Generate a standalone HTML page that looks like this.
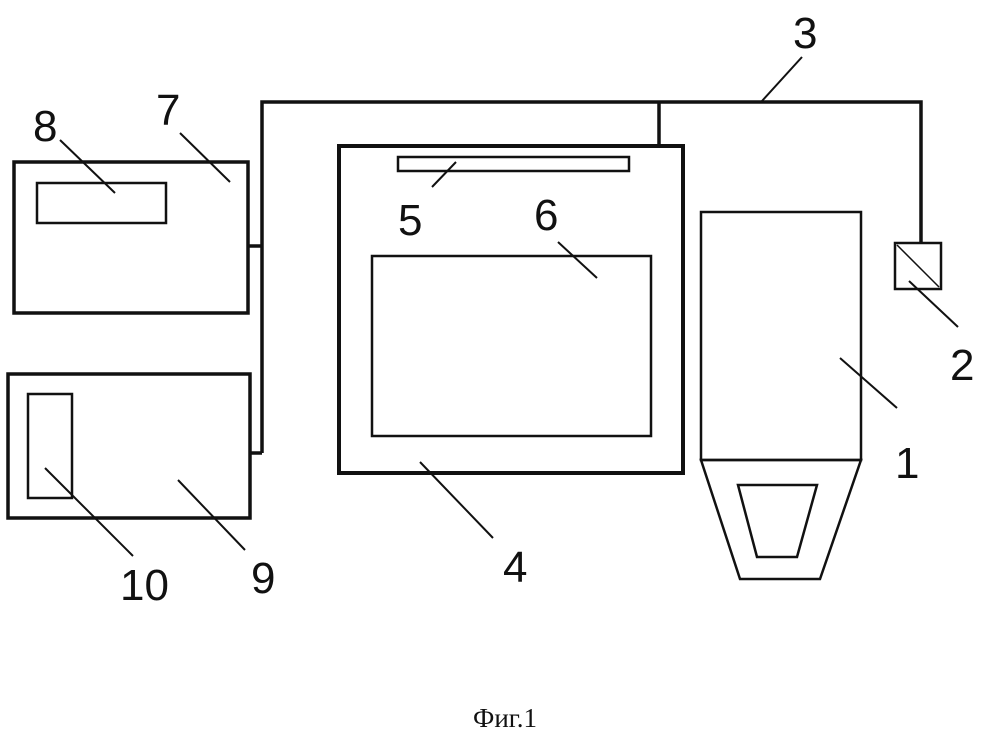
<!DOCTYPE html>
<html><head><meta charset="utf-8"><style>
html,body{margin:0;padding:0;background:#fff;}
svg{display:block;}
text{font-family:"Liberation Sans",sans-serif;font-size:44px;fill:#111;}
</style></head><body>
<svg width="999" height="736" viewBox="0 0 999 736" xmlns="http://www.w3.org/2000/svg">
<g fill="none" stroke="#111" stroke-width="3.5">
<!-- bus 3 -->
<polyline points="262,453 262,102 921,102 921,243"/>
<line x1="659" y1="102" x2="659" y2="146"/>
<line x1="248" y1="246" x2="262" y2="246"/>
<line x1="250" y1="453" x2="262" y2="453"/>
<!-- box 7 / 8 -->
<rect x="14" y="162" width="234" height="151"/>
<rect x="37" y="183" width="129" height="40" stroke-width="2.5"/>
<!-- box 9 / 10 -->
<rect x="8" y="374" width="242" height="144"/>
<rect x="28" y="394" width="44" height="104" stroke-width="2.5"/>
<!-- box 4 -->
<rect x="339" y="146" width="344" height="327" stroke-width="4"/>
<rect x="398" y="157" width="231" height="14" stroke-width="2.5"/>
<rect x="372" y="256" width="279" height="180" stroke-width="2.5"/>
<!-- 1 -->
<g stroke-width="2.5">
<rect x="701" y="212" width="160" height="248"/>
<polygon points="701,460 861,460 820,579 740,579"/>
<polygon points="738,485 817,485 797,557 757,557"/>
<rect x="895" y="243" width="46" height="46"/>
<line x1="897" y1="245" x2="939" y2="287" stroke-width="1.5"/>
</g>
<!-- leaders -->
<g stroke-width="2">
<line x1="60" y1="140" x2="115" y2="193"/>
<line x1="180" y1="133" x2="230" y2="182"/>
<line x1="432" y1="187" x2="456" y2="162"/>
<line x1="558" y1="242" x2="597" y2="278"/>
<line x1="420" y1="462" x2="493" y2="538"/>
<line x1="45" y1="468" x2="133" y2="556"/>
<line x1="178" y1="480" x2="245" y2="550"/>
<line x1="840" y1="358" x2="897" y2="408"/>
<line x1="909" y1="281" x2="958" y2="327"/>
<line x1="762" y1="101" x2="802" y2="57"/>
</g>
</g>
<text x="33" y="141">8</text>
<text x="156" y="125">7</text>
<text x="793" y="48">3</text>
<text x="398" y="235">5</text>
<text x="534" y="230">6</text>
<text x="950" y="380">2</text>
<text x="895" y="478">1</text>
<text x="503" y="582">4</text>
<text x="120" y="600">10</text>
<text x="251" y="593">9</text>
<text x="473" y="727" style="font-family:'Liberation Serif',serif;font-size:27px;">Фиг.1</text>
</svg>
</body></html>
